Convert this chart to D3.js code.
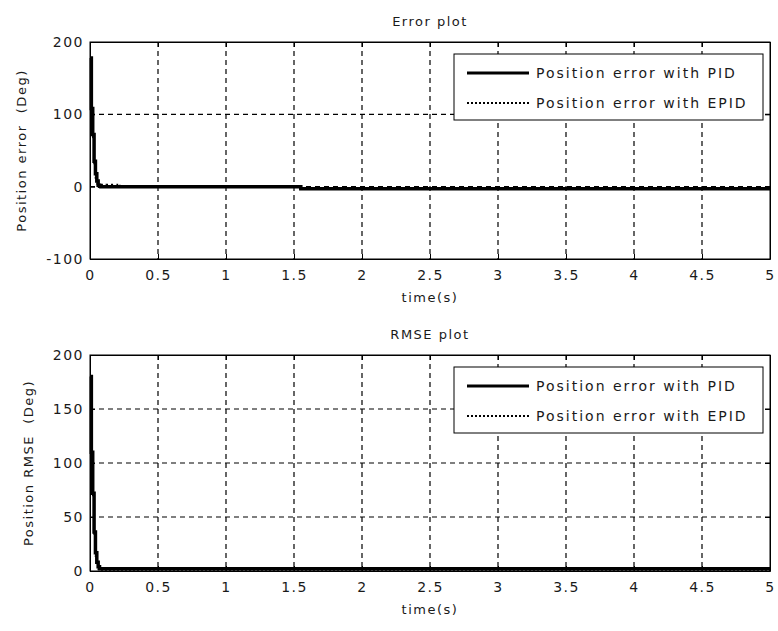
<!DOCTYPE html>
<html>
<head>
  <meta charset="UTF-8">
  <title>Error plot / RMSE plot</title>
  <script src="https://d3js.org/d3.v7.min.js"></script>
  <style>
    body {
      margin: 0;
      background: #fff;
    }
    svg {
      display: block;
      background: #fff;
    }
    text {
      font-family: "DejaVu Sans", Arial, sans-serif;
      font-size: 13px;
      letter-spacing: 1.5px;
      fill: #1a1a1a;
      white-space: pre;
    }
    .legend text {
      font-size: 14px;
      letter-spacing: 2px;
    }
    .grid line {
      stroke: #000;
      stroke-width: 1.2;
      stroke-dasharray: 5,4;
    }
    .axis path, .axis line {
      stroke: #000;
    }
  </style>
</head>
<body>

  <svg width="778" height="631"></svg>

  <script>
    // time axis ticks
    const timeTicks = [0, 0.5, 1, 1.5, 2, 2.5, 3, 3.5, 4, 4.5, 5];
    const errTicks = [-100, 0, 100, 200];
    const rmseTicks = [0, 50, 100, 150, 200];
    const seriesNames = ["Position error with PID", "Position error with EPID"];

    // Error plot, PID (staircase)
    const pidErrTime = [0, 0.01, 0.02, 0.03, 0.04, 0.05, 0.06, 0.07, 0.08, 1.54, 1.55, 5];
    const pidErrVal  = [178, 108, 72, 35, 18, 8, 2, 0.5, 0, 0, -3, -3];

    // Error plot, EPID
    const epidErrTime = [0, 0.01, 0.02, 0.03, 0.04, 0.05, 0.06, 0.08, 0.1, 0.12, 0.14, 0.16, 0.18, 0.2, 0.22, 1.54, 1.55, 5];
    const epidErrVal  = [172, 104, 68, 30, 12, 4, 1, 3, 1, 3, 1, 3, 1, 3, 0, 0, -1.5, -1.5];

    // RMSE plot, PID
    const pidRmseTime = [0, 0.01, 0.02, 0.03, 0.04, 0.05, 0.06, 0.07, 0.08, 5];
    const pidRmseVal  = [180, 110, 72, 36, 17, 8, 4, 2, 2, 2];

    // RMSE plot, EPID
    const epidRmseTime = [0, 0.01, 0.02, 0.03, 0.04, 0.05, 0.06, 0.08, 0.1, 5];
    const epidRmseVal  = [176, 106, 70, 32, 14, 6, 2, 1, 1, 1];

    const svg = d3.select("svg");
    const fmt = d => String(d).replace("\u2212", "-");

    function drawPanel(opt) {
      const g = svg.append("g").attr("transform", `translate(${opt.left},${opt.top})`);
      const w = opt.width, h = opt.height;

      const x = d3.scaleLinear().domain([0, 5]).range([0, w]);
      const y = d3.scaleLinear().domain(opt.yDomain).range([h, 0]);

      // dashed grid
      g.append("g").attr("class", "grid")
        .selectAll("line").data(timeTicks.slice(1, -1)).enter().append("line")
        .attr("x1", d => x(d)).attr("x2", d => x(d))
        .attr("y1", 0).attr("y2", h);
      g.append("g").attr("class", "grid")
        .selectAll("line").data(opt.yTicks.slice(1, -1)).enter().append("line")
        .attr("x1", 0).attr("x2", w)
        .attr("y1", d => y(d)).attr("y2", d => y(d));

      // lines
      const line = d3.line()
        .x(d => x(d[0]))
        .y(d => y(d[1]))
        .curve(d3.curveStepAfter);

      g.append("path")
        .datum(d3.zip(opt.epidT, opt.epidV))
        .attr("fill", "none")
        .attr("stroke", "#000")
        .attr("stroke-width", 1.5)
        .attr("stroke-dasharray", "2,2")
        .attr("d", line);

      g.append("path")
        .datum(d3.zip(opt.pidT, opt.pidV))
        .attr("fill", "none")
        .attr("stroke", "#000")
        .attr("stroke-width", 3.5)
        .attr("d", line);

      // axes, inward ticks on all sides
      g.append("g").attr("class", "axis")
        .attr("transform", `translate(0,${h})`)
        .call(d3.axisBottom(x).tickValues(timeTicks).tickSize(-5).tickSizeOuter(0).tickPadding(11).tickFormat(fmt));
      g.append("g").attr("class", "axis")
        .call(d3.axisTop(x).tickValues(timeTicks).tickSize(-5).tickSizeOuter(0).tickFormat(""));
      g.append("g").attr("class", "axis")
        .call(d3.axisLeft(y).tickValues(opt.yTicks).tickSize(-5).tickSizeOuter(0).tickPadding(6).tickFormat(fmt));
      g.append("g").attr("class", "axis")
        .attr("transform", `translate(${w},0)`)
        .call(d3.axisRight(y).tickValues(opt.yTicks).tickSize(-5).tickSizeOuter(0).tickFormat(""));
      g.selectAll(".axis text")
        .style("font-size", "14px")
        .style("font-family", "\"DejaVu Sans\", Arial, sans-serif")
        .attr("fill", "#1a1a1a");

      g.append("rect")
        .attr("width", w).attr("height", h)
        .attr("fill", "none").attr("stroke", "#000");

      // title and labels
      g.append("text")
        .attr("x", w / 2).attr("y", -16)
        .attr("text-anchor", "middle")
        .text(opt.title);
      g.append("text")
        .attr("x", w / 2).attr("y", h + 43)
        .attr("text-anchor", "middle")
        .text("time(s)");
      g.append("text")
        .attr("transform", `translate(${opt.ylabX},${h / 2}) rotate(-90)`)
        .attr("text-anchor", "middle")
        .text(opt.ylabel);

      // legend
      const lg = g.append("g").attr("class", "legend")
        .attr("transform", `translate(${opt.legX},${opt.legY})`);
      lg.append("rect")
        .attr("width", 309).attr("height", 66)
        .attr("fill", "#fff").attr("stroke", "#000");
      const styles = [{ sw: 3, dash: null }, { sw: 2, dash: "2,2" }];
      seriesNames.forEach((name, i) => {
        const yy = 19 + i * 30;
        lg.append("line")
          .attr("x1", 13).attr("x2", 75)
          .attr("y1", yy).attr("y2", yy)
          .attr("stroke", "#000")
          .attr("stroke-width", styles[i].sw)
          .attr("stroke-dasharray", styles[i].dash);
        lg.append("text")
          .attr("x", 82).attr("y", yy + 5)
          .text(name);
      });
    }

    drawPanel({
      left: 90, top: 42, width: 680, height: 217,
      yDomain: [-100, 200], yTicks: errTicks,
      pidT: pidErrTime, pidV: pidErrVal, epidT: epidErrTime, epidV: epidErrVal,
      title: "Error plot", ylabel: "Position error  (Deg)", ylabX: -64,
      legX: 364, legY: 12
    });

    drawPanel({
      left: 90, top: 355, width: 680, height: 216,
      yDomain: [0, 200], yTicks: rmseTicks,
      pidT: pidRmseTime, pidV: pidRmseVal, epidT: epidRmseTime, epidV: epidRmseVal,
      title: "RMSE plot", ylabel: "Position RMSE  (Deg)", ylabX: -57,
      legX: 364, legY: 12
    });
  </script>

</body>
</html>
